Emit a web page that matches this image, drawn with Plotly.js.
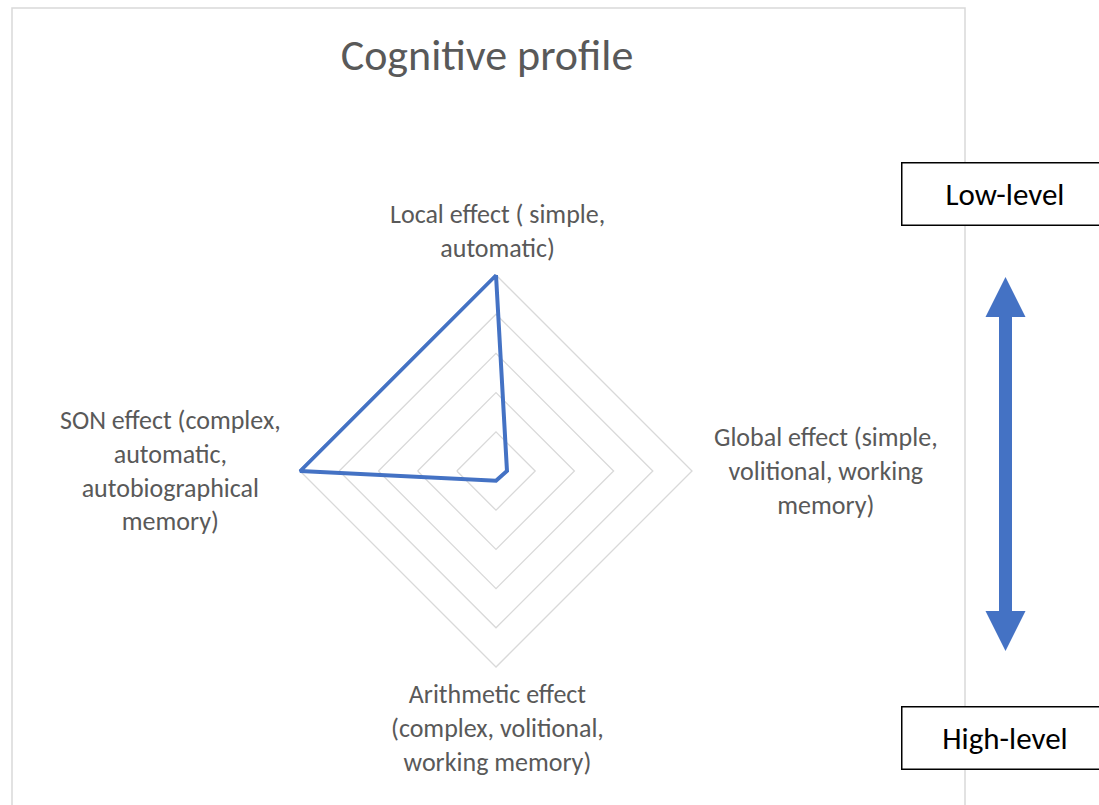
<!DOCTYPE html>
<html>
<head>
<meta charset="utf-8">
<script src="https://cdn.plot.ly/plotly-3.0.1.min.js"></script>
<style>
  html, body { margin: 0; padding: 0; background: #fff; }
  #chart { width: 1099px; height: 805px; }
</style>
</head>
<body>
<div id="chart"></div>
<script>
// categories, clockwise from the top
var categories = [
  'Local effect ( simple,<br>automatic)',
  'Global effect (simple,<br>volitional, working<br>memory)',
  'Arithmetic effect<br>(complex, volitional,<br>working memory)',
  'SON effect (complex,<br>automatic,<br>autobiographical<br>memory)'
];
var profile = [5, 0.28, 0.25, 5];
var levelLabels = ['Low-level', 'High-level'];

var W = 1099, H = 805;
var BLUE = '#4472C4';
var FONT = 'Carlito, Lato, "Open Sans", sans-serif';

// pixel -> paper helpers
function px(x) { return x / W; }
function py(y) { return 1 - y / H; }

// close the loop
var r = profile.concat([profile[0]]);
var theta = categories.concat([categories[0]]);

var data = [{
  type: 'scatterpolar',
  r: r,
  theta: theta,
  mode: 'lines',
  line: { color: BLUE, width: 4 },
  hoverinfo: 'skip'
}];

// polar center (496, 471); value 5 sits at 196 px, range padded so the line isn't clipped
var rMax = 5.06;
var cx = 496, cy = 471, rad = 196 * rMax / 5;

// double-headed arrow
var arX = 1005.5, arTop = 277, hb1 = 317, hb2 = 611, arBot = 651, hw = 20, sw = 6.5;
function P(x, y) { return px(x) + ',' + py(y); }
var arrowPath = 'M' + P(arX, arTop) +
  ' L' + P(arX + hw, hb1) + ' L' + P(arX + sw, hb1) +
  ' L' + P(arX + sw, hb2) + ' L' + P(arX + hw, hb2) +
  ' L' + P(arX, arBot) +
  ' L' + P(arX - hw, hb2) + ' L' + P(arX - sw, hb2) +
  ' L' + P(arX - sw, hb1) + ' L' + P(arX - hw, hb1) + ' Z';

// category label centres (pixels)
var labelPos = [[497, 231], [826, 471], [497, 728], [170, 470]];
var annotations = categories.map(function (c, i) {
  return {
    xref: 'paper', yref: 'paper',
    x: px(labelPos[i][0]), y: py(labelPos[i][1]),
    xanchor: 'center', yanchor: 'middle', align: 'center',
    text: c, showarrow: false,
    font: { family: FONT, size: 26, color: '#595959' }
  };
});

var boxY = [194, 738];
levelLabels.forEach(function (t, i) {
  annotations.push({
    xref: 'paper', yref: 'paper', x: px(901), y: py(boxY[i]),
    xanchor: 'left', yanchor: 'middle',
    text: t, showarrow: false,
    width: 200, height: 56, align: 'center',
    bgcolor: '#fff', bordercolor: '#000', borderwidth: 1.5, borderpad: 2.5,
    font: { family: FONT, size: 31, color: '#000' }
  });
});

var layout = {
  width: W,
  height: H,
  margin: { l: 0, r: 0, t: 0, b: 0 },
  paper_bgcolor: '#fff',
  showlegend: false,
  title: {
    text: 'Cognitive profile',
    x: px(487), xanchor: 'center',
    y: py(55), yanchor: 'middle',
    font: { family: FONT, size: 44, color: '#595959', weight: 300 }
  },
  polar: {
    domain: { x: [px(cx - rad), px(cx + rad)], y: [py(cy + rad), py(cy - rad)] },
    gridshape: 'linear',
    bgcolor: 'rgba(0,0,0,0)',
    radialaxis: {
      range: [0, rMax],
      tickvals: [1, 2, 3, 4, 5],
      showticklabels: false,
      ticks: '',
      showline: false,
      gridcolor: '#d9d9d9',
      gridwidth: 1.3
    },
    angularaxis: {
      direction: 'clockwise',
      rotation: 90,
      showgrid: false,
      showline: false,
      showticklabels: false,
      ticks: ''
    }
  },
  shapes: [
    {
      type: 'rect', xref: 'paper', yref: 'paper',
      x0: px(12), x1: px(965), y0: py(815), y1: py(8),
      line: { color: '#d9d9d9', width: 1.5 }, layer: 'below'
    },
    {
      type: 'path', xref: 'paper', yref: 'paper',
      path: arrowPath, fillcolor: BLUE, line: { width: 0 }
    }
  ],
  annotations: annotations
};

Plotly.newPlot('chart', data, layout, { displayModeBar: false, staticPlot: true });
</script>
</body>
</html>
